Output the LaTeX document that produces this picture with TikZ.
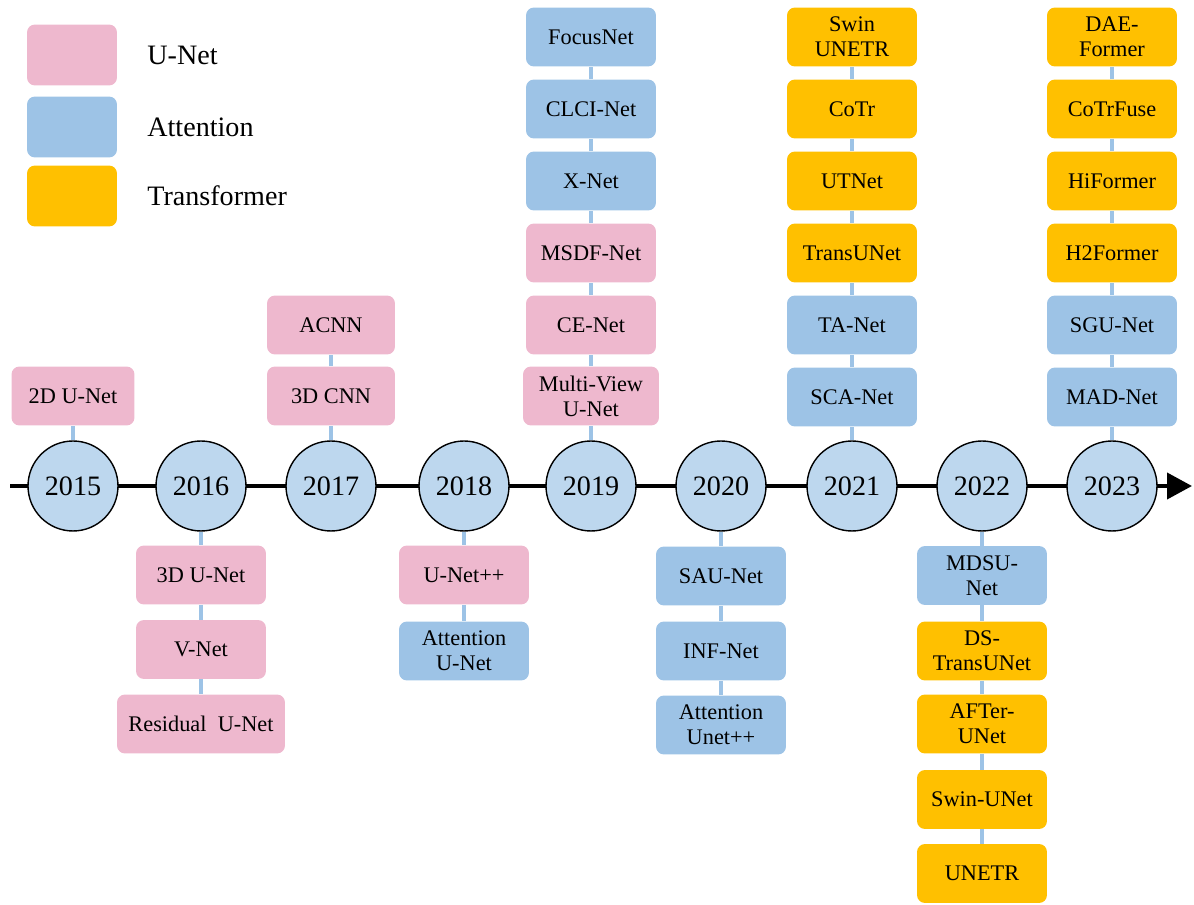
\documentclass[tikz,border=0pt]{standalone}
\usepackage{fontspec}
\setmainfont{Liberation Serif}
\usetikzlibrary{arrows.meta,backgrounds}
\definecolor{pinkc}{HTML}{EEB8CE}
\definecolor{bluec}{HTML}{9DC3E6}
\definecolor{circc}{HTML}{BDD7EE}
\definecolor{orangec}{HTML}{FFC000}
\begin{document}
\begin{tikzpicture}[x=0.02cm,y=-0.02cm,
 mbox/.style={rounded corners=0.16cm, minimum width=2.6cm, minimum height=1.18cm, inner sep=0pt, align=center, font=\fontsize{12.7}{14.2}\selectfont},
 pk/.style={mbox,fill=pinkc}, bl/.style={mbox,fill=bluec}, og/.style={mbox,fill=orangec},
 yr/.style={circle, draw=black, line width=0.8pt, fill=circc, minimum size=1.8cm, inner sep=0pt, font=\fontsize{16}{18}\selectfont},
 conn/.style={draw=bluec, line width=2pt},
 lg/.style={rounded corners=0.16cm, minimum width=1.8cm, minimum height=1.22cm, inner sep=0pt},
 lgt/.style={anchor=west, inner sep=0pt, font=\fontsize{16}{18}\selectfont}]
\useasboundingbox (0,0) rectangle (1194,905);

% legend
\node[lg, fill=pinkc] (l1) at (72,55) {};
\node[lg, fill=bluec] (l2) at (72,127) {};
\node[lg, fill=orangec] (l3) at (72,196) {};
\node[lgt] (t1) at (147,55) {U-Net};
\node[lgt] (t2) at (147,127) {Attention};
\node[lgt] (t3) at (147,196) {Transformer};

% years
\node[yr] (y15) at (73,486) {2015};
\node[yr] (y16) at (201,486) {2016};
\node[yr] (y17) at (331,486) {2017};
\node[yr] (y18) at (464,486) {2018};
\node[yr] (y19) at (591,486) {2019};
\node[yr] (y20) at (721,486) {2020};
\node[yr] (y21) at (852,486) {2021};
\node[yr] (y22) at (982,486) {2022};
\node[yr] (y23) at (1112,486) {2023};
\coordinate (ts) at (10,486);
\coordinate (te) at (1192,486);

% 2015
\node[pk, minimum width=2.46cm] (a1) at (73,396) {2D U-Net};
% 2016
\node[pk] (b1) at (201,575) {3D U-Net};
\node[pk] (b2) at (201,649.5) {V-Net};
\node[pk, minimum width=3.36cm] (b3) at (201,724) {Residual\enspace U-Net};
% 2017
\node[pk, minimum width=2.56cm] (c1) at (331,396) {3D CNN};
\node[pk, minimum width=2.56cm] (c2) at (331,325) {ACNN};
% 2018
\node[pk] (d1) at (464,575) {U-Net++};
\node[bl] (d2) at (464,651) {Attention\\U-Net};
% 2019
\node[pk, minimum width=2.72cm] (e1) at (591,396) {Multi-View\\U-Net};
\node[pk] (e2) at (591,325) {CE-Net};
\node[pk] (e3) at (591,253) {MSDF-Net};
\node[bl] (e4) at (591,181) {X-Net};
\node[bl] (e5) at (591,109) {CLCI-Net};
\node[bl] (e6) at (591,37) {FocusNet};
% 2020
\node[bl] (f1) at (721,576) {SAU-Net};
\node[bl] (f2) at (721,651) {INF-Net};
\node[bl] (f3) at (721,725) {Attention\\Unet++};
% 2021
\node[bl] (g1) at (852,397) {SCA-Net};
\node[bl] (g2) at (852,325) {TA-Net};
\node[og] (g3) at (852,253) {TransUNet};
\node[og] (g4) at (852,181) {UTNet};
\node[og] (g5) at (852,109) {CoTr};
\node[og] (g6) at (852,37) {Swin\\UNETR};
% 2022
\node[bl] (h1) at (982,575.5) {MDSU-\\Net};
\node[og] (h2) at (982,651) {DS-\\TransUNet};
\node[og] (h3) at (982,724) {AFTer-\\UNet};
\node[og] (h4) at (982,799.5) {Swin-UNet};
\node[og] (h5) at (982,873.5) {UNETR};
% 2023
\node[bl] (i1) at (1112,397) {MAD-Net};
\node[bl] (i2) at (1112,325) {SGU-Net};
\node[og] (i3) at (1112,253) {H2Former};
\node[og] (i4) at (1112,181) {HiFormer};
\node[og] (i5) at (1112,109) {CoTrFuse};
\node[og] (i6) at (1112,37) {DAE-\\Former};

\begin{scope}[on background layer]
\draw[line width=2.3pt, -{Triangle[length=0.5cm,width=0.52cm]}] (ts) -- (te);
\draw[conn] (y15) -- (a1);
\draw[conn] (y16) -- (b1) -- (b2) -- (b3);
\draw[conn] (y17) -- (c1) -- (c2);
\draw[conn] (y18) -- (d1) -- (d2);
\draw[conn] (y19) -- (e1) -- (e2) -- (e3) -- (e4) -- (e5) -- (e6);
\draw[conn] (y20) -- (f1) -- (f2) -- (f3);
\draw[conn] (y21) -- (g1) -- (g2) -- (g3) -- (g4) -- (g5) -- (g6);
\draw[conn] (y22) -- (h1) -- (h2) -- (h3) -- (h4) -- (h5);
\draw[conn] (y23) -- (i1) -- (i2) -- (i3) -- (i4) -- (i5) -- (i6);
\end{scope}
\end{tikzpicture}
\end{document}
